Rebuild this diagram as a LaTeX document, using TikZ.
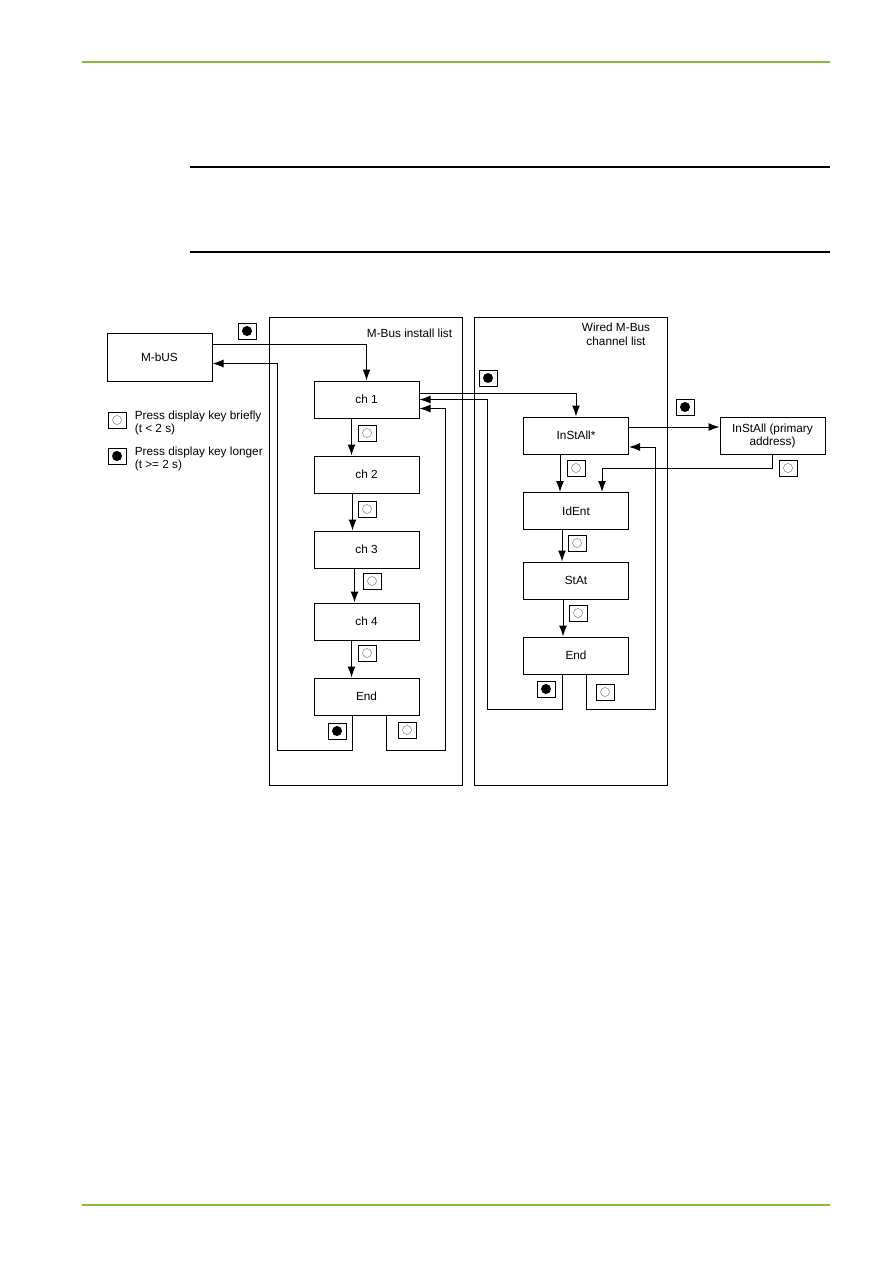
\documentclass[tikz,border=0pt]{standalone}
\usepackage{fontspec}
\setmainfont{Liberation Sans}
\usetikzlibrary{arrows.meta}
\definecolor{pagegreen}{RGB}{135,185,60}
\begin{document}
\begin{tikzpicture}[x=1pt,y=-1pt,font=\fontsize{11.8}{13}\selectfont,line width=1pt,
  box/.style={draw,minimum width=105pt,minimum height=37pt,inner sep=0pt},
  frame/.style={draw,minimum width=193pt,minimum height=468pt,inner sep=0pt},
  keybox/.style={draw,minimum width=18pt,minimum height=16pt,inner sep=0pt},
  keyw/.style={keybox,path picture={\draw[gray,line width=0.5pt] (path picture bounding box.center) circle (4.5pt);}},
  keyb/.style={keybox,path picture={\fill (path picture bounding box.center) circle (5pt);}},
  arr/.style={-{Latex[length=11pt,width=8pt]}}]
  \useasboundingbox (0,0) rectangle (893,1263);
  % page rules
  \draw[pagegreen,line width=1.3pt] (82,62) -- (830,62);
  \draw[pagegreen,line width=1.3pt] (82,1205) -- (830,1205);
  \draw[line width=1.3pt] (190,167) -- (830,167);
  \draw[line width=1.3pt] (190,252) -- (830,252);
  % the two lists
  \node[frame] (instlist) at (365.5,551) {};
  \node[frame] (chanlist) at (571,551) {};
  \node[anchor=east] (instlbl) at (456,333) {M-Bus install list};
  \node[align=center,font=\fontsize{11.8}{14}\selectfont] (chanlbl) at (616,334) {Wired M-Bus\\channel list};
  % boxes
  \node[draw,minimum width=105pt,minimum height=48pt,inner sep=0pt] (mbus) at (159.5,357.5) {M-bUS};
  \node[box] (ch1) at (366.5,399.5) {ch 1};
  \node[box] (ch2) at (366.5,474.5) {ch 2};
  \node[box] (ch3) at (366.5,549.5) {ch 3};
  \node[box] (ch4) at (366.5,621.5) {ch 4};
  \node[box] (end1) at (366.5,696.5) {End};
  \node[box] (inst) at (576,435.5) {InStAll*};
  \node[box,align=center] (prim) at (772.5,435.5) {InStAll (primary\\address)};
  \node[box] (ident) at (576,511) {IdEnt};
  \node[box] (stat) at (576,580.5) {StAt};
  \node[box] (end2) at (576,655.5) {End};
  % legend
  \node[keyw] (legw) at (117,420) {};
  \node[keyb] (legb) at (117,456) {};
  \node[anchor=west,align=left] (legwt) at (131,423) {Press display key briefly\\(t < 2 s)};
  \node[anchor=west,align=left] (legbt) at (131,459) {Press display key longer\\(t >= 2 s)};
  % keys on the connectors
  \node[keyb] (k1) at (247,331) {};
  \node[keyw] (k2) at (367,433) {};
  \node[keyw] (k3) at (367,509) {};
  \node[keyw] (k4) at (372,581) {};
  \node[keyw] (k5) at (367,653) {};
  \node[keyb] (k6) at (337,731) {};
  \node[keyw] (k7) at (407,730) {};
  \node[keyb] (k8) at (488,378) {};
  \node[keyb] (k9) at (685,407) {};
  \node[keyw] (k10) at (576,468) {};
  \node[keyw] (k11) at (788,468) {};
  \node[keyw] (k12) at (577,543) {};
  \node[keyw] (k13) at (578,613) {};
  \node[keyb] (k14) at (546,689) {};
  \node[keyw] (k15) at (605,692) {};
  % corners of the return lines
  \coordinate (c1) at (277,750);
  \coordinate (c2) at (445,750);
  \coordinate (c3) at (487,709);
  \coordinate (c4) at (655,709);
  \coordinate (c5) at (602,468);
  % connectors
  \draw[arr] ([yshift=13.5pt]mbus.east) -| (ch1.north);
  \draw[arr] ([xshift=-15pt]ch1.south) -- ([xshift=-15pt]ch2.north);
  \draw[arr] ([xshift=-14pt]ch2.south) -- ([xshift=-14pt]ch3.north);
  \draw[arr] ([xshift=-12pt]ch3.south) -- ([xshift=-12pt]ch4.north);
  \draw[arr] ([xshift=-15pt]ch4.south) -- ([xshift=-15pt]end1.north);
  \draw[arr] ([xshift=-14.5pt]end1.south) |- (c1) |- ([yshift=-6pt]mbus.east);
  \draw[arr] ([xshift=19.5pt]end1.south) |- (c2) |- ([yshift=-9pt]ch1.east);
  \draw[arr] ([yshift=6pt]ch1.east) -| (inst.north);
  \draw[arr] ([xshift=-14pt]end2.south) |- (c3) |- (ch1.east);
  \draw[arr] ([xshift=10pt]end2.south) |- (c4) |- ([yshift=-11.5pt]inst.east);
  \draw[arr] ([yshift=8.5pt]inst.east) -- ([yshift=8.5pt]prim.west);
  \draw[arr] ([xshift=-16pt]inst.south) -- ([xshift=-16pt]ident.north);
  \draw[arr] (prim.south) |- (c5) -- ([xshift=26pt]ident.north);
  \draw[arr] ([xshift=-14pt]ident.south) -- ([xshift=-14pt]stat.north);
  \draw[arr] ([xshift=-13pt]stat.south) -- ([xshift=-13pt]end2.north);
\end{tikzpicture}
\end{document}
